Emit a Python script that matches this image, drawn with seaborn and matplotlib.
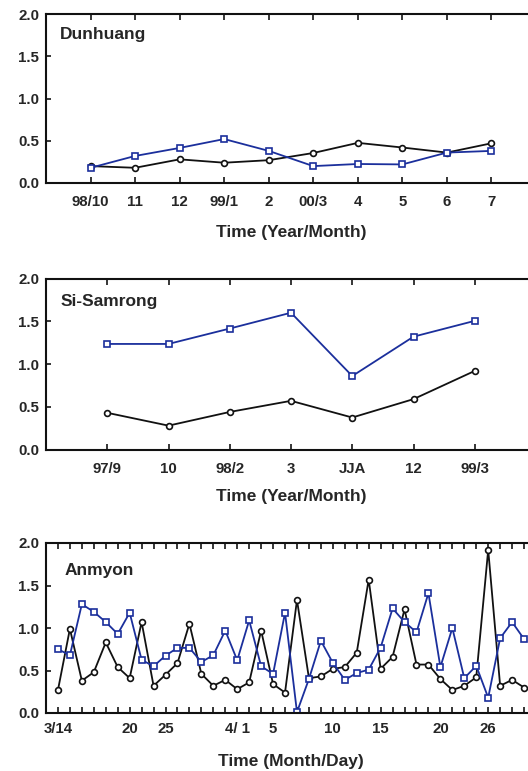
import numpy as np
import matplotlib
matplotlib.use("Agg")
import matplotlib.pyplot as plt
import seaborn as sns

# --- data ---
dun_labels = ['98/10', '11', '12', '99/1', '2', '00/3', '4', '5', '6', '7']
dun_black = [0.20, 0.18, 0.28, 0.24, 0.27, 0.355, 0.475, 0.42, 0.36, 0.47]
dun_blue = [0.18, 0.32, 0.415, 0.52, 0.38, 0.20, 0.225, 0.22, 0.36, 0.38]

sis_labels = ['97/9', '10', '98/2', '3', 'JJA', '12', '99/3']
sis_black = [0.43, 0.28, 0.44, 0.57, 0.375, 0.59, 0.92]
sis_blue = [1.235, 1.235, 1.415, 1.60, 0.86, 1.32, 1.505]

anm_black = [0.27, 0.99, 0.38, 0.48, 0.83, 0.54, 0.41, 1.07, 0.32, 0.45,
             0.586, 1.05, 0.46, 0.32, 0.39, 0.28, 0.36, 0.97, 0.34, 0.24,
             1.33, 0.41, 0.43, 0.52, 0.54, 0.71, 1.57, 0.52, 0.66, 1.22,
             0.57, 0.57, 0.40, 0.27, 0.32, 0.42, 1.92, 0.32, 0.39, 0.30]
anm_blue = [0.75, 0.68, 1.28, 1.19, 1.07, 0.93, 1.18, 0.625, 0.55, 0.675,
            0.766, 0.766, 0.60, 0.68, 0.97, 0.62, 1.09, 0.55, 0.46, 1.18,
            0.01, 0.40, 0.85, 0.59, 0.39, 0.47, 0.51, 0.77, 1.23, 1.07,
            0.95, 1.41, 0.54, 1.00, 0.41, 0.555, 0.18, 0.88, 1.07, 0.87]
anm_tick_pos = [0, 6, 9, 15, 18, 23, 27, 32, 36]
anm_tick_labels = ['3/14', '20', '25', '4/ 1', '5', '10', '15', '20', '26']

sns.set_style('ticks')
plt.rcParams['font.family'] = ['Liberation Sans', 'DejaVu Sans']
plt.rcParams['font.weight'] = 'bold'

BLUE = '#1b2f9c'
BLACK = '#111111'
TICK_FS = 10.8
LABEL_FS = 12.5

fig = plt.figure(figsize=(5.28, 7.71), dpi=100)
W, H = 528, 771


def make_axes(top, bottom):
    left, right = 46, 536
    return fig.add_axes([left / W, 1 - bottom / H, (right - left) / W, (bottom - top) / H])


def style(ax, xlim_right, xpad):
    ax.set_ylim(0, 2.0)
    ax.set_xlim(-1, xlim_right)
    ax.set_yticks([0, 0.5, 1.0, 1.5, 2.0])
    ax.set_yticklabels(['0.0', '0.5', '1.0', '1.5', '2.0'])
    for s in ax.spines.values():
        s.set_linewidth(1.5)
        s.set_color(BLACK)
    ax.tick_params(axis='x', which='both', direction='in', top=True, length=4,
                   width=1.3, pad=xpad, labelsize=TICK_FS)
    ax.tick_params(axis='y', which='both', direction='in', right=True, length=3.5,
                   width=1.3, pad=5, labelsize=TICK_FS)
    for lab in ax.get_xticklabels() + ax.get_yticklabels():
        lab.set_fontweight('bold')


def draw(ax, x, black, blue):
    sns.lineplot(x=x, y=black, ax=ax, color=BLACK, lw=1.3, marker='o', ms=4.2,
                 mfc='white', mec=BLACK, mew=1.2)
    sns.lineplot(x=x, y=blue, ax=ax, color=BLUE, lw=1.3, marker='s', ms=4.8,
                 mfc='white', mec=BLUE, mew=1.2)


def label_panel(ax, name, tx, ty, xlabel, ly):
    ax.text(tx, ty, name, transform=ax.transAxes, fontsize=LABEL_FS,
            fontweight='bold', va='center', ha='left')
    ax.set_xlabel(xlabel, fontsize=LABEL_FS, fontweight='bold')
    ax.xaxis.label.set_va('center')
    ax.xaxis.set_label_coords(0.5, ly)


# Panel 1: Dunhuang
ax1 = make_axes(14, 183)
x1 = np.arange(len(dun_labels))
draw(ax1, x1, dun_black, dun_blue)
ax1.set_xticks(x1)
ax1.set_xticklabels(dun_labels)
style(ax1, 10, 9)
label_panel(ax1, 'Dunhuang', 0.029, 0.876, 'Time (Year/Month)', -0.29)

# Panel 2: Si-Samrong
ax2 = make_axes(278.5, 449.6)
x2 = np.arange(len(sis_labels))
draw(ax2, x2, sis_black, sis_blue)
ax2.set_xticks(x2)
ax2.set_xticklabels(sis_labels)
style(ax2, 7, 9)
label_panel(ax2, 'Si-Samrong', 0.029, 0.863, 'Time (Year/Month)', -0.277)

# Panel 3: Anmyon
ax3 = make_axes(543, 713)
x3 = np.arange(len(anm_black))
draw(ax3, x3, anm_black, anm_blue)
ax3.set_xticks(x3, minor=True)
ax3.set_xticks(anm_tick_pos)
ax3.set_xticklabels(anm_tick_labels)
style(ax3, 40, 6.5)
label_panel(ax3, 'Anmyon', 0.037, 0.84, 'Time (Month/Day)', -0.288)

fig.savefig('out.png', dpi=100)
